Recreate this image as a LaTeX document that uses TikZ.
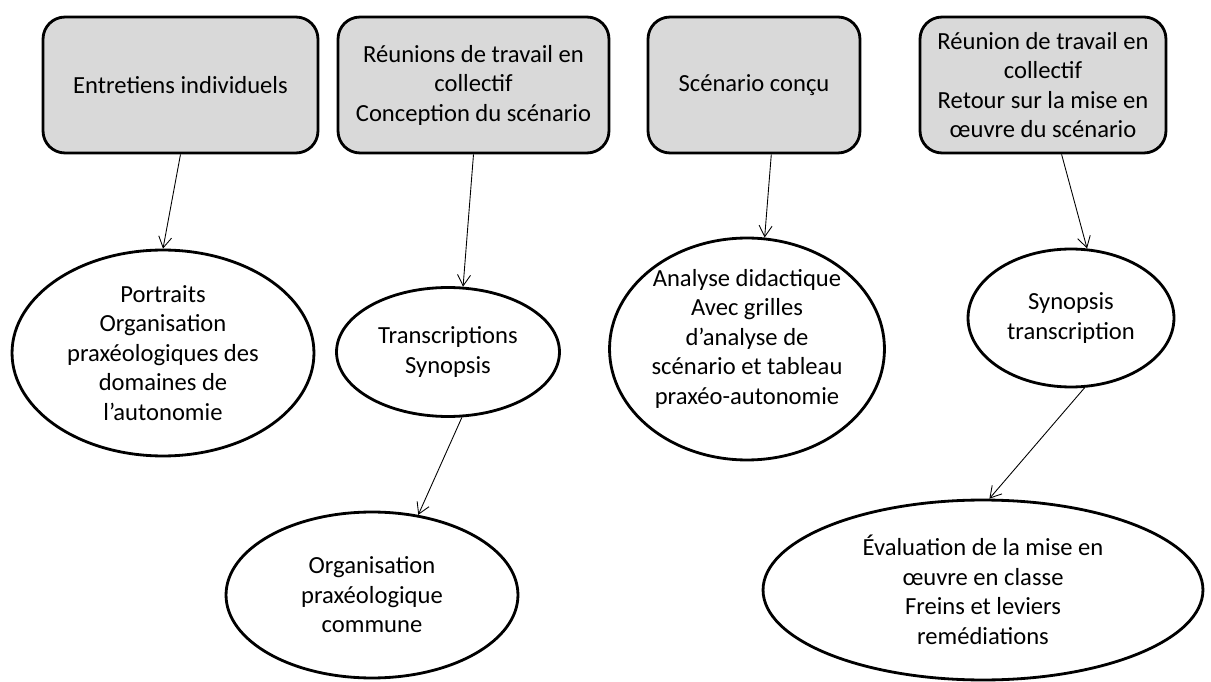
\documentclass[tikz,border=0pt]{standalone}
\usepackage{fontspec}
\setmainfont{Carlito}
\usetikzlibrary{positioning,shapes.geometric,arrows.meta}
\definecolor{boxgray}{HTML}{D9D9D9}

\begin{document}
\begin{tikzpicture}[
		x=0.02cm, y=-0.02cm,
		every node/.style={font=\fontsize{14}{16.8}\selectfont, align=center},
		etape/.style={draw, line width=1.6pt, rounded corners=0.44cm, fill=boxgray, minimum height=2.72cm, inner sep=0pt},
		resultat/.style={draw, ellipse, line width=1.6pt, inner sep=-1mm},
		fleche/.style={-{Straight Barb[length=2.2mm,width=2.6mm]}, line width=0.5pt}
		]
		\useasboundingbox (0,0) rectangle (1211,682);
		\node[etape, minimum width=5.5cm] (entretiens) at (180.5,85) {Entretiens individuels};
		\node[etape, minimum width=5.42cm] (reunions) at (473.5,85) {Réunions de travail  en\\collectif\\Conception du scénario};
		\node[etape, minimum width=4.24cm] (scenario) at (754,85) {Scénario conçu};
		\node[etape, minimum width=4.92cm] (retour) at (1043,85) {Réunion de travail  en\\collectif\\Retour sur la mise en\\œuvre du scénario};
		\node[resultat, minimum width=6.04cm, minimum height=4.12cm] (portraits) at (163,353) {Portraits\\Organisation\\praxéologiques des\\domaines de\\l’autonomie};
		\node[resultat, minimum width=4.46cm, minimum height=2.58cm] (transcriptions) at (448,352) {Transcriptions\\Synopsis};
		\node[resultat, minimum width=5.5cm, minimum height=4.44cm, text depth=0.5cm] (analyse) at (747,349) {Analyse didactique\\Avec grilles\\d’analyse de\\scénario et tableau\\praxéo-autonomie};
		\node[resultat, minimum width=4.12cm, minimum height=2.76cm] (synopsis) at (1071,318) {Synopsis\\transcription};
		\node[resultat, minimum width=5.84cm, minimum height=3.32cm] (organisation) at (372,595) {Organisation\\praxéologique\\commune};
		\node[resultat, minimum width=8.8cm, minimum height=3.6cm] (evaluation) at (983,590) {Évaluation de la mise en\\œuvre en classe\\Freins et leviers\\remédiations};
		\path [fleche]
		(entretiens.south) edge (portraits.north)
		(reunions.south) edge (transcriptions.77)
		(scenario.-76) edge (analyse.81)
		(retour.-75) edge (synopsis.77)
		(transcriptions.-78) edge (organisation.60)
		(synopsis.-79) edge (evaluation.86);
	\end{tikzpicture}
\end{document}
